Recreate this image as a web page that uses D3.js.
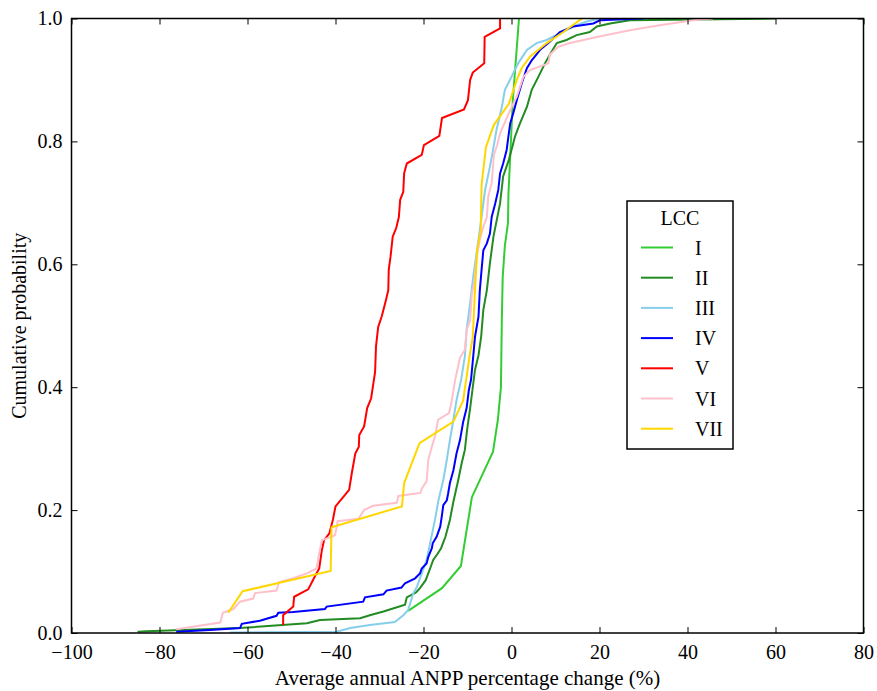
<!DOCTYPE html>
<html>
<head>
<meta charset="utf-8">
<script src="https://cdn.jsdelivr.net/npm/d3@7"></script>
<style>
  body { margin: 0; background: #fff; }
  svg text { font-family: "Liberation Serif", "Times New Roman", serif; }
</style>
</head>
<body>
<div id="chart"></div>
<script>
// ECDF points: [percentage change, cumulative probability]
const lccI = [[-23.5,0.036],[-15.8,0.073],[-11.5,0.109],[-9.0,0.221],[-4.2,0.295],[-3.1,0.347],[-2.4,0.400],[-2.2,0.509],[-2.0,0.579],[-1.5,0.631],[-0.8,0.667],[-0.7,0.713],[0.3,0.867],[1.7,1.0]];
const lccII = [[-85.0,0.002],[-82.9,0.003],[-61.7,0.008],[-46.5,0.016],[-43.5,0.021],[-34.4,0.024],[-32.2,0.029],[-29.1,0.035],[-24.2,0.046],[-23.8,0.058],[-21.7,0.066],[-20.8,0.073],[-19.5,0.086],[-18.5,0.105],[-17.8,0.119],[-16.8,0.129],[-16.0,0.138],[-15.0,0.157],[-14.0,0.184],[-13.2,0.214],[-12.6,0.233],[-12.1,0.249],[-11.3,0.277],[-10.6,0.298],[-10.1,0.330],[-9.4,0.366],[-8.3,0.428],[-7.5,0.452],[-6.9,0.482],[-6.4,0.526],[-5.6,0.558],[-4.9,0.602],[-4.1,0.645],[-2.6,0.699],[-1.9,0.743],[-0.6,0.770],[0.8,0.808],[1.9,0.829],[3.5,0.856],[4.6,0.884],[6.1,0.905],[7.6,0.927],[9.1,0.946],[10.3,0.960],[12.5,0.965],[14.8,0.973],[17.8,0.978],[19.4,0.987],[22.4,0.992],[26.9,0.997],[60.1,1.0]];
const lccIII = [[-64.0,0.001],[-39.7,0.002],[-36.7,0.008],[-32.2,0.013],[-26.5,0.018],[-24.6,0.029],[-23.5,0.037],[-22.3,0.065],[-21.5,0.075],[-20.4,0.097],[-19.3,0.119],[-18.5,0.146],[-17.4,0.184],[-16.6,0.216],[-15.5,0.249],[-14.7,0.282],[-14.0,0.314],[-13.2,0.347],[-12.5,0.379],[-11.5,0.410],[-10.6,0.450],[-10.2,0.493],[-9.4,0.537],[-8.7,0.580],[-7.5,0.640],[-6.8,0.677],[-6.0,0.721],[-4.9,0.759],[-4.4,0.778],[-3.4,0.819],[-2.2,0.856],[-1.5,0.884],[0.0,0.905],[1.5,0.927],[3.5,0.949],[5.7,0.960],[8.0,0.965],[11.0,0.976],[14.0,0.987],[17.1,0.995],[20.1,1.0]];
const lccIV = [[-76.2,0.002],[-68.5,0.005],[-61.7,0.008],[-61.3,0.015],[-57.2,0.020],[-53.4,0.028],[-53.0,0.033],[-49.6,0.034],[-42.4,0.039],[-42.0,0.043],[-33.7,0.051],[-33.3,0.058],[-29.1,0.063],[-28.4,0.069],[-25.0,0.074],[-24.2,0.081],[-21.9,0.089],[-20.8,0.097],[-20.4,0.105],[-19.3,0.113],[-18.9,0.124],[-18.1,0.138],[-17.9,0.146],[-17.0,0.157],[-16.2,0.173],[-15.9,0.187],[-15.5,0.208],[-14.7,0.216],[-14.4,0.227],[-14.0,0.244],[-13.2,0.265],[-12.5,0.292],[-11.7,0.314],[-11.0,0.343],[-10.2,0.366],[-9.7,0.395],[-9.2,0.412],[-8.7,0.450],[-8.3,0.482],[-7.5,0.515],[-7.2,0.558],[-6.8,0.591],[-6.4,0.623],[-5.6,0.634],[-4.9,0.650],[-4.5,0.677],[-3.7,0.699],[-3.0,0.721],[-2.6,0.748],[-1.9,0.764],[-1.1,0.786],[-0.7,0.808],[-0.3,0.829],[0.4,0.846],[1.2,0.867],[2.3,0.894],[3.5,0.919],[4.6,0.932],[6.5,0.949],[8.7,0.962],[11.0,0.978],[14.0,0.987],[18.6,0.992],[20.1,0.997],[30.0,1.0]];
const lccV = [[-51.9,0.013],[-51.9,0.029],[-49.6,0.043],[-49.4,0.059],[-46.2,0.071],[-44.7,0.092],[-43.7,0.105],[-43.1,0.135],[-42.6,0.151],[-41.4,0.162],[-40.6,0.184],[-40.0,0.206],[-36.9,0.233],[-36.3,0.260],[-35.5,0.292],[-34.7,0.303],[-34.6,0.322],[-33.5,0.336],[-32.8,0.366],[-31.9,0.382],[-31.0,0.425],[-30.8,0.466],[-30.3,0.498],[-29.5,0.515],[-28.7,0.537],[-28.0,0.558],[-27.9,0.591],[-27.5,0.612],[-27.0,0.645],[-26.2,0.659],[-25.6,0.677],[-25.3,0.705],[-24.6,0.718],[-24.4,0.748],[-23.8,0.764],[-20.4,0.778],[-19.9,0.794],[-16.4,0.809],[-15.8,0.838],[-10.8,0.852],[-9.9,0.867],[-9.4,0.900],[-8.8,0.912],[-6.2,0.927],[-6.1,0.970],[-2.6,0.984],[-2.6,1.0]];
const lccVI = [[-76.2,0.006],[-66.2,0.017],[-65.6,0.033],[-63.2,0.039],[-61.7,0.051],[-58.7,0.056],[-58.3,0.065],[-53.4,0.069],[-52.8,0.083],[-49.6,0.089],[-46.5,0.097],[-44.3,0.105],[-43.7,0.130],[-43.1,0.151],[-40.1,0.159],[-39.5,0.182],[-34.8,0.186],[-33.5,0.200],[-31.5,0.207],[-26.1,0.212],[-25.7,0.223],[-20.7,0.228],[-20.3,0.236],[-19.3,0.247],[-18.9,0.282],[-18.1,0.303],[-17.3,0.322],[-16.7,0.347],[-14.2,0.358],[-13.7,0.373],[-12.8,0.412],[-11.7,0.448],[-10.6,0.461],[-10.2,0.493],[-9.4,0.509],[-9.0,0.553],[-8.5,0.569],[-7.9,0.612],[-7.2,0.640],[-6.4,0.661],[-5.6,0.677],[-5.3,0.710],[-4.5,0.732],[-4.0,0.778],[-3.3,0.793],[-2.6,0.813],[-0.3,0.851],[1.2,0.873],[2.7,0.905],[4.2,0.916],[8.4,0.927],[8.7,0.941],[10.6,0.954],[13.3,0.960],[19.4,0.970],[26.9,0.981],[33.7,0.989],[41.3,0.997],[45.8,1.0]];
const lccVII = [[-64.4,0.033],[-61.1,0.068],[-41.1,0.101],[-40.9,0.172],[-24.9,0.206],[-24.4,0.244],[-20.9,0.309],[-13.2,0.344],[-11.0,0.378],[-9.5,0.452],[-8.8,0.482],[-8.3,0.558],[-7.8,0.623],[-7.0,0.656],[-6.8,0.729],[-5.8,0.791],[-4.0,0.827],[-0.6,0.861],[1.2,0.900],[2.3,0.919],[4.2,0.938],[8.0,0.960],[11.8,0.978],[16.0,1.0]];

const seriesNames = ["I", "II", "III", "IV", "V", "VI", "VII"];
const seriesData = [lccI, lccII, lccIII, lccIV, lccV, lccVI, lccVII];
const seriesColors = ["#32cd32", "#228b22", "#87ceeb", "#0000ff", "#ff0000", "#ffc0cb", "#ffd700"];
const xTicks = [-100, -80, -60, -40, -20, 0, 20, 40, 60, 80];
const yTicks = [0, 0.2, 0.4, 0.6, 0.8, 1.0];

const width = 877, height = 691;
const margin = { left: 71.5, right: 13.5, top: 18.5, bottom: 58 };

const svg = d3.select("#chart").append("svg")
  .attr("width", width)
  .attr("height", height);

const x = d3.scaleLinear().domain([-100, 80]).range([margin.left, width - margin.right]);
const y = d3.scaleLinear().domain([0, 1]).range([height - margin.bottom, margin.top]);

// clip to plot area
svg.append("clipPath").attr("id", "clip")
  .append("rect")
  .attr("x", margin.left).attr("y", margin.top)
  .attr("width", x.range()[1] - x.range()[0])
  .attr("height", y.range()[0] - y.range()[1]);

const line = d3.line().x(d => x(d[0])).y(d => y(d[1]));

svg.append("g").attr("clip-path", "url(#clip)")
  .selectAll("path")
  .data(seriesData)
  .enter().append("path")
  .attr("d", line)
  .attr("fill", "none")
  .attr("stroke", (d, i) => seriesColors[i])
  .attr("stroke-width", 2)
  .attr("stroke-linejoin", "miter");

// axes: classic matplotlib look, ticks pointing inward on all four sides
const tickLen = 6;
const fmtX = d3.format("d");
const fmtY = d3.format(".1f");

const axBottom = svg.append("g").attr("transform", `translate(0,${y(0)})`)
  .call(d3.axisBottom(x).tickValues(xTicks).tickFormat(fmtX).tickSizeInner(-tickLen).tickSizeOuter(0).tickPadding(tickLen + 6));
const axTop = svg.append("g").attr("transform", `translate(0,${y(1)})`)
  .call(d3.axisTop(x).tickValues(xTicks).tickFormat("").tickSizeInner(-tickLen).tickSizeOuter(0));
const axLeft = svg.append("g").attr("transform", `translate(${x(-100)},0)`)
  .call(d3.axisLeft(y).tickValues(yTicks).tickFormat(fmtY).tickSizeInner(-tickLen).tickSizeOuter(0).tickPadding(tickLen + 3));
const axRight = svg.append("g").attr("transform", `translate(${x(80)},0)`)
  .call(d3.axisRight(y).tickValues(yTicks).tickFormat("").tickSizeInner(-tickLen).tickSizeOuter(0));

[axBottom, axTop, axLeft, axRight].forEach(a => {
  a.select(".domain").remove();
  a.selectAll(".tick line").attr("stroke", "#000").attr("stroke-width", 1);
  a.selectAll("text").attr("font-family", "Liberation Serif").attr("font-size", 20).attr("fill", "#000");
});

// frame
svg.append("rect")
  .attr("x", x(-100)).attr("y", y(1))
  .attr("width", x(80) - x(-100)).attr("height", y(0) - y(1))
  .attr("fill", "none").attr("stroke", "#000").attr("stroke-width", 1.5);

// axis titles
svg.append("text")
  .attr("x", (x(-100) + x(80)) / 2).attr("y", 685)
  .attr("text-anchor", "middle").attr("font-size", 21)
  .text("Average annual ANPP percentage change (%)");

svg.append("text")
  .attr("transform", `translate(26,${(y(0) + y(1)) / 2}) rotate(-90)`)
  .attr("text-anchor", "middle").attr("font-size", 20)
  .text("Cumulative probability");

// legend
const lg = svg.append("g").attr("transform", "translate(627,201)");
lg.append("rect").attr("width", 106).attr("height", 248)
  .attr("fill", "#fff").attr("stroke", "#000").attr("stroke-width", 1.5);
lg.append("text").attr("x", 53).attr("y", 24).attr("text-anchor", "middle").attr("font-size", 20).text("LCC");
const items = lg.selectAll(".item").data(seriesNames).enter().append("g")
  .attr("class", "item")
  .attr("transform", (d, i) => `translate(0,${46.5 + i * 30.2})`);
items.append("line").attr("x1", 14).attr("x2", 46)
  .attr("stroke", (d, i) => seriesColors[i]).attr("stroke-width", 2);
items.append("text").attr("x", 68).attr("y", 7).attr("font-size", 20).text(d => d);
</script>
</body>
</html>
